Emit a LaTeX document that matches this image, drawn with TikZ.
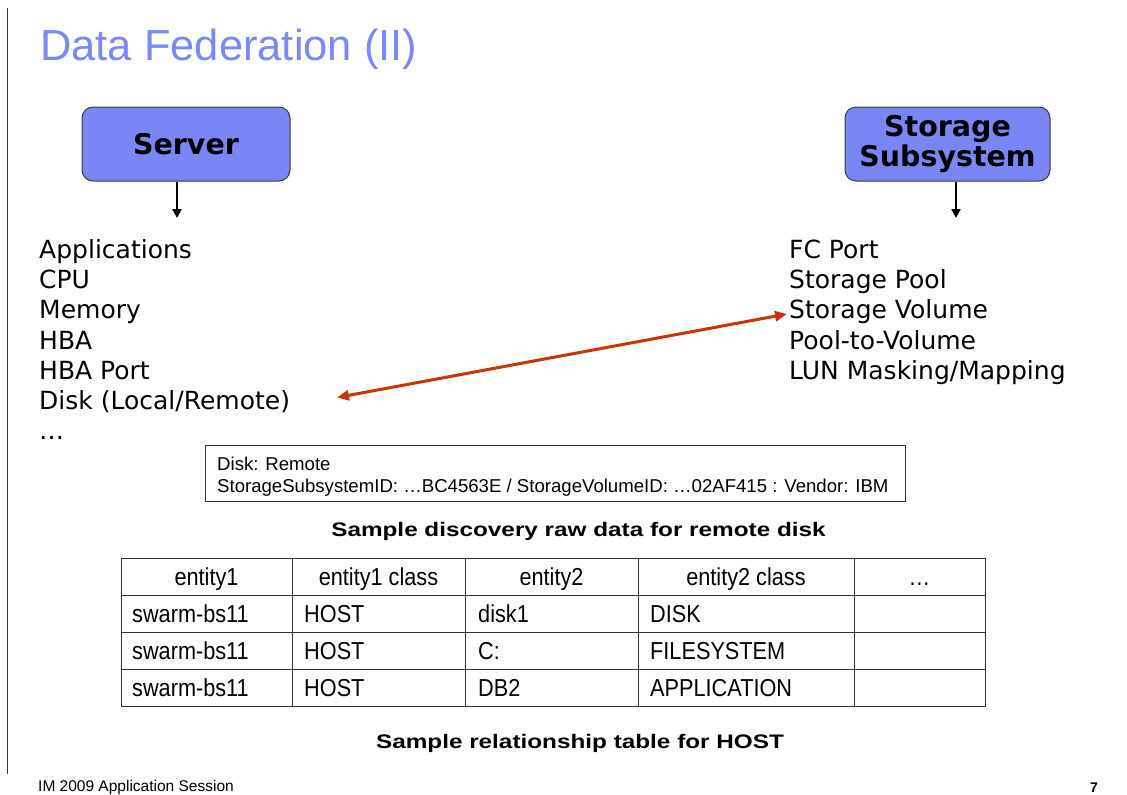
\documentclass[tikz,border=0pt]{standalone}
\usepackage{fontspec}
\setmainfont{Liberation Sans}
\newfontfamily\verd{DejaVu Sans}
\usetikzlibrary{arrows.meta}
\definecolor{titleblue}{RGB}{122,137,245}
\definecolor{boxblue}{RGB}{122,134,246}
\definecolor{linkred}{RGB}{204,51,0}
\definecolor{edgegray}{RGB}{60,60,60}
\newcommand{\tabtext}[1]{\scalebox{1}[1.13]{#1}}
\newcommand{\captext}[1]{\scalebox{1.24}[1]{#1}}
\begin{document}
\begin{tikzpicture}[x=1pt,y=-1pt,
  entitybox/.style={draw=edgegray,line width=1pt,fill=boxblue,rounded corners=11pt,
    minimum width=208pt,minimum height=74pt,align=center,inner sep=0pt,
    font=\verd\bfseries\fontsize{28.5}{33}\selectfont},
  listitem/.style={anchor=base west,inner sep=0pt,font=\verd\fontsize{25}{30}\selectfont},
  downarrow/.style={line width=2.5pt,-{Triangle[length=9pt,width=9pt]}},
  cell/.style={inner sep=0pt,font=\fontsize{21.7}{24}\selectfont},
  caption/.style={inner sep=0pt,anchor=base,font=\bfseries\fontsize{19.6}{24}\selectfont},
  rule/.style={line width=1pt,black!80}]
\useasboundingbox (0,0) rectangle (1127,795);
\fill[white] (0,0) rectangle (1127,795);
% left margin rule
\draw[rule] (7,8) -- (7,774);
% title
\node[anchor=base west,inner sep=0pt,text=titleblue,font=\fontsize{43.5}{50}\selectfont] (title) at (40,60) {Data Federation (II)};
% entity boxes
\node[entitybox] (server) at (186,144) {Server};
\node[entitybox,minimum width=205pt] (storage) at (947.5,144) {Storage\\[-3pt]Subsystem};
\coordinate (serverend) at (177,218);
\coordinate (storageend) at (956,218);
\draw[downarrow] (server.south -| serverend) -- (serverend);
\draw[downarrow] (storage.south -| storageend) -- (storageend);
% server attributes
\foreach \t [count=\i] in {Applications,CPU,Memory,HBA,HBA Port,Disk (Local/Remote),\dots}
  \node[listitem] (s\i) at (39,{250+30.2*(\i-1)+8.5}) {\t};
% storage attributes
\foreach \t [count=\i] in {FC Port,Storage Pool,Storage Volume,Pool-to-Volume,LUN Masking/Mapping}
  \node[listitem] (v\i) at (789,{250+30.2*(\i-1)+8.5}) {\t};
% link between remote disk and storage volume
\coordinate (diskpt) at (337,397.5);
\coordinate (volpt) at (787,314);
\draw[linkred,line width=3pt,{Triangle[length=12pt,width=10pt]}-{Triangle[length=12pt,width=10pt]}]
  (diskpt) -- (volpt);
% raw discovery record
\draw[rule] (205,445) rectangle (905,501);
\node[anchor=base west,inner sep=0pt,font=\fontsize{18.6}{22}\selectfont] (rec1) at (217,470) {Disk: Remote};
\node[anchor=base west,inner sep=0pt,font=\fontsize{18.6}{22}\selectfont] (rec2) at (217,492) {StorageSubsystemID: \dots BC4563E / StorageVolumeID: \dots 02AF415 : Vendor: IBM};
\node[caption] (cap1) at (578.5,536) {\captext{Sample discovery raw data for remote disk}};
% relationship table
\draw[rule] (121,558) rectangle (985,706);
\foreach \yy in {595,632,669} \draw[rule] (121,\yy) -- (985,\yy);
\foreach \xx in {292,465,638,854} \draw[rule] (\xx,558) -- (\xx,706);
\foreach \t/\xx [count=\i] in {entity1/206.5,entity1 class/378.5,entity2/551.5,entity2 class/746,\dots/919.5}
  \node[cell,anchor=base] (h\i) at (\xx,585) {\tabtext{\t}};
\foreach \a/\b/\c/\d [count=\r] in {swarm-bs11/HOST/disk1/DISK,swarm-bs11/HOST/C:/FILESYSTEM,swarm-bs11/HOST/DB2/APPLICATION}{
  \node[cell,anchor=base west] (r\r a) at (132,{595+37*(\r-1)+27}) {\tabtext{\a}};
  \node[cell,anchor=base west] (r\r b) at (304,{595+37*(\r-1)+27}) {\tabtext{\b}};
  \node[cell,anchor=base west] (r\r c) at (478,{595+37*(\r-1)+27}) {\tabtext{\c}};
  \node[cell,anchor=base west] (r\r d) at (650,{595+37*(\r-1)+27}) {\tabtext{\d}};
}
\node[caption] (cap2) at (580,748) {\captext{Sample relationship table for HOST}};
% footer
\node[anchor=base west,inner sep=0pt,font=\fontsize{15.5}{18}\selectfont] (foot) at (38,791) {IM 2009 Application Session};
\node[anchor=base,inner sep=0pt,font=\bfseries\fontsize{14}{16}\selectfont] (page) at (1094,792) {7};
\end{tikzpicture}
\end{document}
